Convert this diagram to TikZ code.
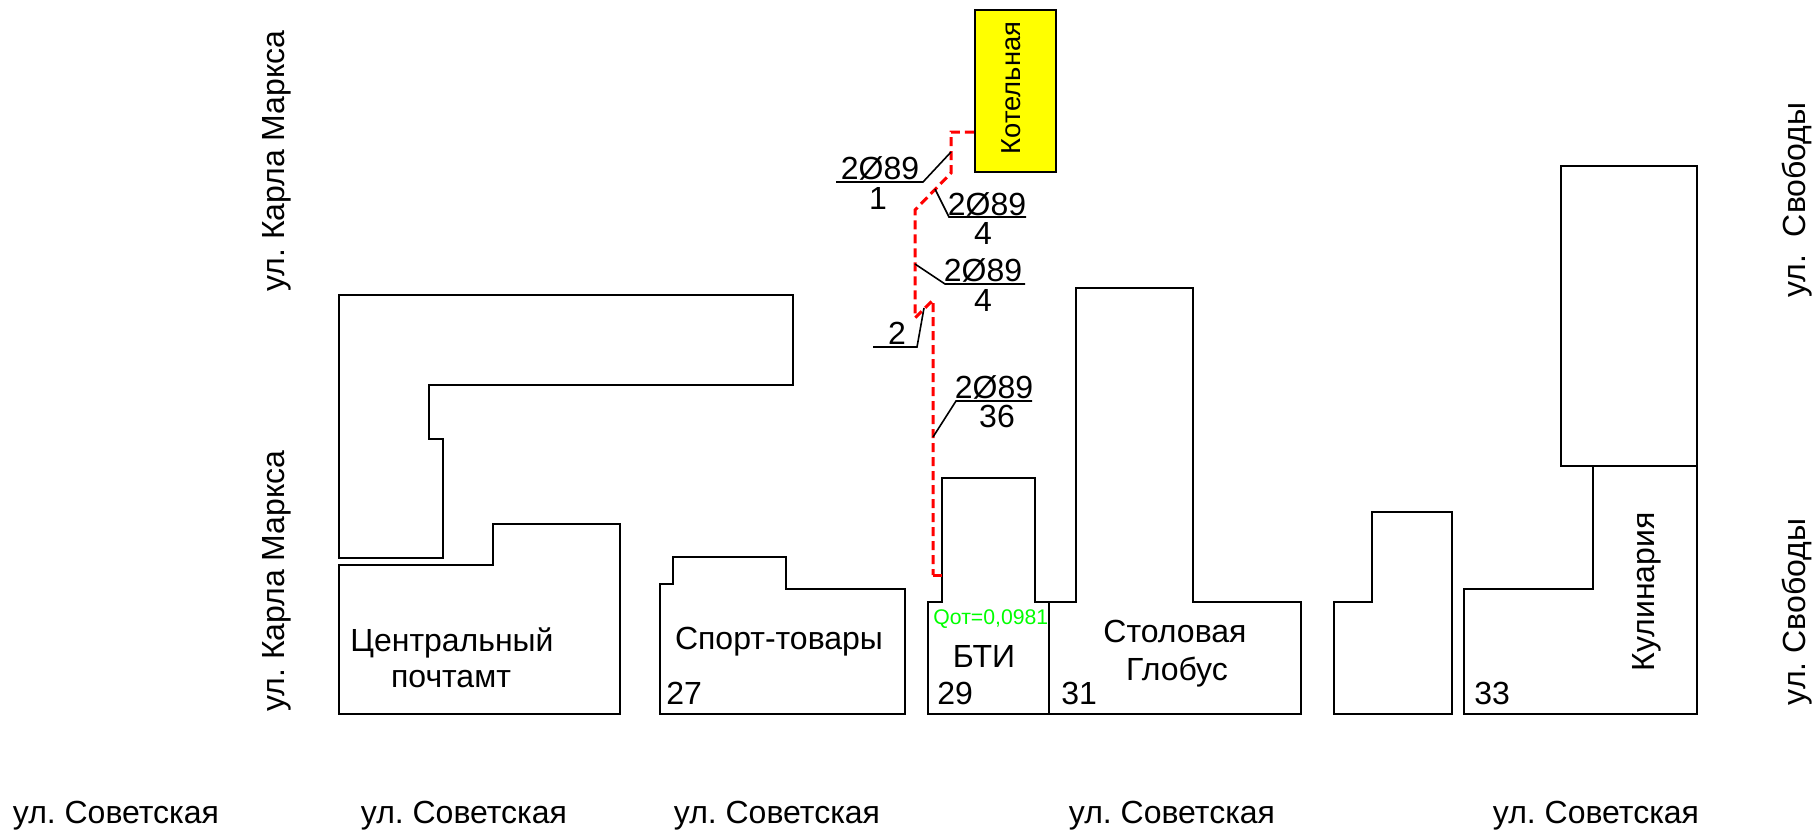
\documentclass[tikz,border=0pt]{standalone}
\usepackage{fontspec}
\setmainfont{Liberation Sans}
\frenchspacing
\definecolor{pipered}{HTML}{FF0000}
\definecolor{qgreen}{HTML}{00FF00}
\definecolor{boileryellow}{HTML}{FFFF00}
\tikzstyle{building} = [
    draw=black,
    line width=1.1pt,
    line join=miter
    ]
\tikzstyle{pipe} = [
    draw=pipered,
    line width=1.5pt,
    dash pattern=on 4.5pt off 2.5pt
    ]
\tikzstyle{leader} = [
    draw=black,
    line width=0.8pt
    ]
\tikzstyle{lbl} = [
    inner sep=0pt,
    anchor=base,
    font=\fontsize{16}{18}\selectfont
    ]
\tikzstyle{lblleft} = [
    lbl,
    anchor=base west
    ]
\begin{document}
\begin{tikzpicture}[x=0.5pt,y=-0.5pt]
\useasboundingbox (0,0) rectangle (1818,829);

% buildings
\draw[building] (339,295) -- (793,295) -- (793,385) -- (429,385) -- (429,439) -- (443,439) -- (443,558) -- (339,558) -- cycle;
\draw[building] (339,565) -- (493,565) -- (493,524) -- (620,524) -- (620,714) -- (339,714) -- cycle;
\draw[building] (660,714) -- (660,584) -- (673,584) -- (673,557) -- (786,557) -- (786,589) -- (905,589) -- (905,714) -- cycle;
\draw[building] (928,714) -- (928,602) -- (942,602) -- (942,478) -- (1035,478) -- (1035,602) -- (1049,602) -- (1049,714) -- cycle;
\draw[building] (1049,714) -- (1049,602) -- (1076,602) -- (1076,288) -- (1193,288) -- (1193,602) -- (1301,602) -- (1301,714) -- cycle;
\draw[building] (1334,714) -- (1334,602) -- (1372,602) -- (1372,512) -- (1452,512) -- (1452,714) -- cycle;
\draw[building] (1464,714) -- (1464,589) -- (1593,589) -- (1593,466) -- (1697,466) -- (1697,714) -- cycle;
\draw[building] (1561,166) rectangle (1697,466);

% boiler house
\node[building, fill=boileryellow, minimum width=40.5pt, minimum height=81pt, inner sep=0pt] (boiler) at (1015.5,91) {};
\node[lbl, rotate=90, font=\fontsize{13.7}{15}\selectfont] (boilertext) at (1020,88) {Котельная};

% pipe
\coordinate (p1) at (boiler.west |- 0,132);
\coordinate (p2) at (951,132);
\coordinate (p3) at (951,173);
\coordinate (p4) at (915,210);
\coordinate (p5) at (915,318);
\coordinate (p6) at (933,300);
\coordinate (p7) at (933,575);
\coordinate (p8) at (942,575);
\draw[pipe] (p1) -- (p2) -- (p3) -- (p4) -- (p5) -- (p6) -- (p7);
\draw[pipe, solid] (p7) -- (p8);

% leaders
\coordinate (a1) at (951,152);
\coordinate (a2) at (935,189);
\coordinate (a3) at (915,264);
\coordinate (a4) at (924,308);
\coordinate (a5) at (933,437);
\draw[leader] (a1) -- (923,182) -- (836,182);
\draw[leader] (a2) -- (949,217) -- (1026,217);
\draw[leader] (a3) -- (945,284) -- (1025,284);
\draw[leader] (a4) -- (917,347) -- (873,347);
\draw[leader] (a5) -- (956,401) -- (1032,401);
\node[lbl] (d1) at (880,179) {2Ø89};
\node[lbl] (l1) at (878,209) {1};
\node[lbl] (d2) at (987,215) {2Ø89};
\node[lbl] (l2) at (983,244) {4};
\node[lbl] (d3) at (983,281) {2Ø89};
\node[lbl] (l3) at (983,311) {4};
\node[lbl] (l4) at (897,344) {2};
\node[lbl] (d5) at (994,398) {2Ø89};
\node[lbl] (l5) at (997,427) {36};

% building labels
\node[lbl] (post1) at (452,651) {Центральный};
\node[lbl] (post2) at (451,687) {почтамт};
\node[lbl] (sport) at (779,649) {Спорт-товары};
\node[lbl] (bti) at (984,667) {БТИ};
\node[lbl] (stol) at (1175,642) {Столовая};
\node[lbl] (glob) at (1177,680) {Глобус};
\node[lbl, rotate=90] (kulin) at (1654,592) {Кулинария};
\node[lblleft, text=qgreen, font=\fontsize{10.6}{13}\selectfont] (qot) at (933,624) {Qот=0,0981};
\node[lblleft] (n27) at (666,704) {27};
\node[lblleft] (n29) at (937,704) {29};
\node[lblleft] (n31) at (1061,704) {31};
\node[lblleft] (n33) at (1474,704) {33};

% streets
\node[lbl] (sov1) at (116,823) {ул. Советская};
\node[lbl] (sov2) at (464,823) {ул. Советская};
\node[lbl] (sov3) at (777,823) {ул. Советская};
\node[lbl] (sov4) at (1172,823) {ул. Советская};
\node[lbl] (sov5) at (1596,823) {ул. Советская};
\node[lbl, rotate=90] (marx1) at (284,161) {ул. Карла Маркса};
\node[lbl, rotate=90] (marx2) at (284,581) {ул. Карла Маркса};
\node[lbl, rotate=90] (svob1) at (1805,200) {ул.\ \ Свободы};
\node[lbl, rotate=90] (svob2) at (1805,612) {ул. Свободы};
\end{tikzpicture}
\end{document}
